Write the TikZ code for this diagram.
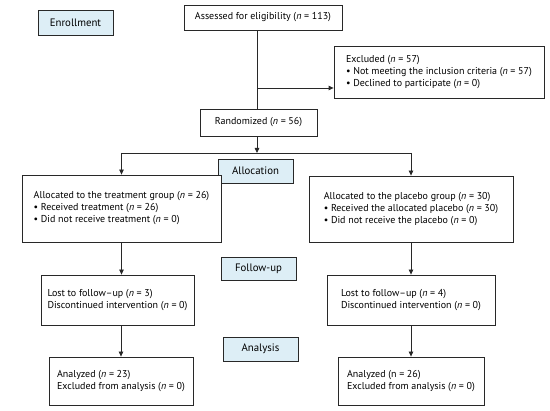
\documentclass[tikz,border=0pt]{standalone}
\usepackage{fontspec}
\setmainfont{PT Sans}
\usetikzlibrary{arrows.meta}
\definecolor{stagefill}{RGB}{221,238,246}
\definecolor{linecol}{RGB}{40,40,40}
\begin{document}
\begin{tikzpicture}[x=1pt,y=-1pt,
  box/.style={draw=linecol,line width=0.8pt,fill=white,inner sep=0pt,align=left,
    font=\fontsize{10}{12}\selectfont},
  stage/.style={draw=linecol,line width=0.8pt,fill=stagefill,inner sep=0pt,
    minimum width=75pt,font=\fontsize{10.8}{12}\selectfont},
  conn/.style={draw=linecol,line width=0.8pt},
  arr/.style={conn,-{Triangle[length=5pt,width=4.5pt]}}]
\useasboundingbox (0,0) rectangle (550,411);
\newcommand{\nn}{\textit{n}}
% stage labels
\node[stage,minimum height=25pt] (enroll) at (75.5,22.5) {Enrollment};
\node[stage,minimum height=24pt] (alloc) at (255.5,171) {Allocation};
\node[stage,minimum height=23pt] (fulab) at (258.5,268.5) {Follow-up};
\node[stage,minimum height=24pt] (anlab) at (260.5,349) {Analysis};
% boxes
\node[box,minimum width=158pt,minimum height=25pt] (assess) at (263,17.5)
  {Assessed for eligibility (\nn{} = 113)};
\node[box,minimum width=210pt,minimum height=52pt] (excl) at (439,72)
  {Excluded (\nn{} = 57)\\ • Not meeting the inclusion criteria (\nn{} = 57)\\ • Declined to participate (\nn{} = 0)};
\node[box,minimum width=117pt,minimum height=27pt] (rand) at (258.5,122.5)
  {Randomized (\nn{} = 56)};
\node[box,minimum width=199pt,minimum height=67pt] (trt) at (121.5,208.5)
  {Allocated to the treatment group (\nn{} = 26)\\ • Received treatment (\nn{} = 26)\\ • Did not receive treatment (\nn{} = 0)};
\node[box,minimum width=204pt,minimum height=66pt] (plc) at (411,209)
  {Allocated to the placebo group (\nn{} = 30)\\ • Received the allocated placebo (\nn{} = 30)\\ • Did not receive the placebo (\nn{} = 0)};
\node[box,minimum width=153pt,minimum height=50pt] (ful) at (117.5,300)
  {Lost to follow–up (\nn{} = 3)\\ Discontinued intervention (\nn{} = 0)};
\node[box,minimum width=168pt,minimum height=50pt] (fur) at (411,300)
  {Lost to follow–up (\nn{} = 4)\\ Discontinued intervention (\nn{} = 0)};
\node[box,minimum width=144pt,minimum height=48pt] (anl) at (121,381)
  {Analyzed (\nn{} = 23)\\ Excluded from analysis (\nn{} = 0)};
\node[box,minimum width=146pt,minimum height=48pt] (anr) at (411,381)
  {Analyzed (n = 26)\\ Excluded from analysis (\nn{} = 0)};
% connectors
\coordinate (br) at (257,88);
\coordinate (split) at (257,153);
\draw[conn] (br |- assess.south) -- (br |- rand.north);
\draw[arr] (br) -- (br -| excl.west);
\draw[arr] (split |- rand.south) -- (split);
\draw[conn] (trt.north |- split) -- (plc.north |- split);
\draw[arr] (trt.north |- split) -- (trt.north);
\draw[arr] (plc.north |- split) -- (plc.north);
\draw[arr] (trt.south) -- (trt.south |- ful.north);
\draw[arr] (anl.north |- ful.south) -- (anl.north);
\draw[arr] (plc.south) -- (plc.south |- fur.north);
\draw[arr] (anr.north |- fur.south) -- (anr.north);
\end{tikzpicture}
\end{document}
